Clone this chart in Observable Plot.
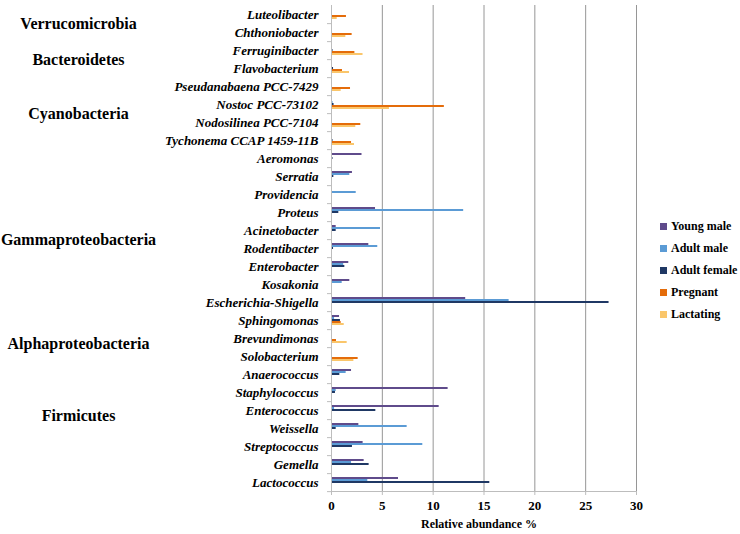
<!DOCTYPE html>
<html><head><meta charset="utf-8">
<script src="https://cdn.jsdelivr.net/npm/d3@7"></script>
<script src="https://cdn.jsdelivr.net/npm/@observablehq/plot@0.6"></script>
<style>
body{margin:0;background:#fff;}
#wrap{position:relative;width:740px;height:534px;overflow:hidden;}
#legend{position:absolute;left:660px;top:216px;font-weight:bold;font-size:12px;font-family:"Liberation Serif","Times New Roman",Times,"DejaVu Serif",serif;color:#000;}
.item{height:21.8px;display:flex;align-items:center;white-space:nowrap;}
.sw{width:7px;height:7px;margin-right:4px;flex:none;}
svg text{font-family:"Liberation Serif","Times New Roman",Times,"DejaVu Serif",serif;}
</style></head><body><div id="wrap"></div>
<script>
const categories = ["Luteolibacter","Chthoniobacter","Ferruginibacter","Flavobacterium","Pseudanabaena PCC-7429","Nostoc PCC-73102","Nodosilinea PCC-7104","Tychonema CCAP 1459-11B","Aeromonas","Serratia","Providencia","Proteus","Acinetobacter","Rodentibacter","Enterobacter","Kosakonia","Escherichia-Shigella","Sphingomonas","Brevundimonas","Solobacterium","Anaerococcus","Staphylococcus","Enterococcus","Weissella","Streptococcus","Gemella","Lactococcus"];
const series = ["Young male","Adult male","Adult female","Pregnant","Lactating"];
const youngMale   = [0,0,0,0,0,0,0,0,3.0,2.06,0,4.33,0.46,3.67,1.7,1.8,13.2,0.79,0,0,1.97,11.47,10.59,2.69,3.11,3.21,6.59];
const adultMale   = [0.05,0,0,0,0,0.15,0,0,0,1.8,2.43,13.0,4.82,4.55,1.2,1.05,17.47,0.3,0,0,1.44,0.46,0.3,7.44,8.98,1.97,3.57];
const adultFemale = [0.05,0.1,0.15,0.2,0,0.25,0,0.15,0.15,0.23,0,0.72,0.46,0.2,1.31,0,27.3,0.88,0,0,0.82,0.39,4.36,0.46,2.06,3.7,15.57];
const pregnant    = [1.47,2.03,2.3,1.08,1.87,11.1,2.88,1.97,0,0,0,0,0,0,0,0,0,0.95,0.49,2.62,0,0,0,0,0,0,0];
const lactating   = [0.56,1.41,3.1,1.77,0.95,5.7,2.39,2.26,0,0,0,0,0,0,0,0,0,1.25,1.54,2.2,0,0,0,0,0,0,0];
const xTicks = [0,5,10,15,20,25,30];
const phylaAtBoundary = ["Verrucomicrobia","Bacteroidetes","Cyanobacteria","Gammaproteobacteria"];
const phylaAtBoundaryAnchor = ["Luteolibacter","Ferruginibacter","Nostoc PCC-73102","Acinetobacter"];
const phylaAtMiddle = ["Alphaproteobacteria","Firmicutes"];
const phylaAtMiddleAnchor = ["Brevundimonas","Enterococcus"];
const colors = ["#5f4b8b","#5b9bd5","#1f3864","#e46c0a","#fac66b"];

const valuesBySeries = [youngMale, adultMale, adultFemale, pregnant, lactating];
const data = categories.flatMap((c, i) => series.map((s, j) => ({genus: c, group: s, value: valuesBySeries[j][i]})));
const bandH = (534 - 1 - 40) / categories.length;
const serif = '"Liberation Serif", "Times New Roman", Times, "DejaVu Serif", serif';

const chart = Plot.plot({
  width: 740, height: 534,
  marginLeft: 331, marginRight: 104, marginTop: 1, marginBottom: 40,
  style: {fontFamily: serif, background: "white", color: "black"},
  x: {domain: [0, 30]},
  y: {domain: series, paddingInner: 0, paddingOuter: 1, axis: null},
  fy: {domain: categories, padding: 0, axis: null},
  color: {domain: series, range: colors},
  marks: [
    Plot.gridX(xTicks.filter(t => t > 0), {stroke: "#969696", strokeOpacity: 1}),
    Plot.barX(data, {fy: "genus", y: "group", x: "value", fill: "group"}),
    Plot.ruleX([0], {stroke: "#bdbdbd"}),
    Plot.frame({anchor: "bottom", facetAnchor: "bottom", stroke: "#bdbdbd"}),
    Plot.axisX(xTicks, {anchor: "bottom", tickSize: 4, tickPadding: 5, stroke: "#bdbdbd", fill: "black", fontSize: 13, fontWeight: "bold", label: null}),
    Plot.axisFy({anchor: "left", tickSize: 0, tickPadding: 13, fontSize: 13, fontStyle: "italic", fontWeight: "bold", fill: "black", label: null}),
    Plot.axisFy({anchor: "left", tickSize: 4, tickPadding: 0, dy: bandH / 2, stroke: "#bdbdbd", tickFormat: () => "", label: null}),
    Plot.text(phylaAtBoundary, {fy: (d, i) => phylaAtBoundaryAnchor[i], text: d => d, frameAnchor: "bottom-left", dx: -253, textAnchor: "middle", lineAnchor: "middle", fontSize: 16, fontWeight: "bold", fill: "black"}),
    Plot.text(phylaAtMiddle, {fy: (d, i) => phylaAtMiddleAnchor[i], text: d => d, frameAnchor: "left", dx: -253, dy: 5, textAnchor: "middle", lineAnchor: "middle", fontSize: 16, fontWeight: "bold", fill: "black"}),
    Plot.text(["Relative abundance %"], {facetAnchor: "bottom", frameAnchor: "bottom", dy: 33, dx: -5, lineAnchor: "middle", fontSize: 12, fontWeight: "bold", fill: "black"})
  ]
});

const wrap = document.getElementById("wrap");
wrap.appendChild(chart);
const legend = document.createElement("div");
legend.id = "legend";
series.forEach((s, i) => {
  const item = document.createElement("div");
  item.className = "item";
  const sw = document.createElement("span");
  sw.className = "sw";
  sw.style.background = colors[i];
  item.appendChild(sw);
  item.appendChild(document.createTextNode(s));
  legend.appendChild(item);
});
wrap.appendChild(legend);
</script></body></html>
